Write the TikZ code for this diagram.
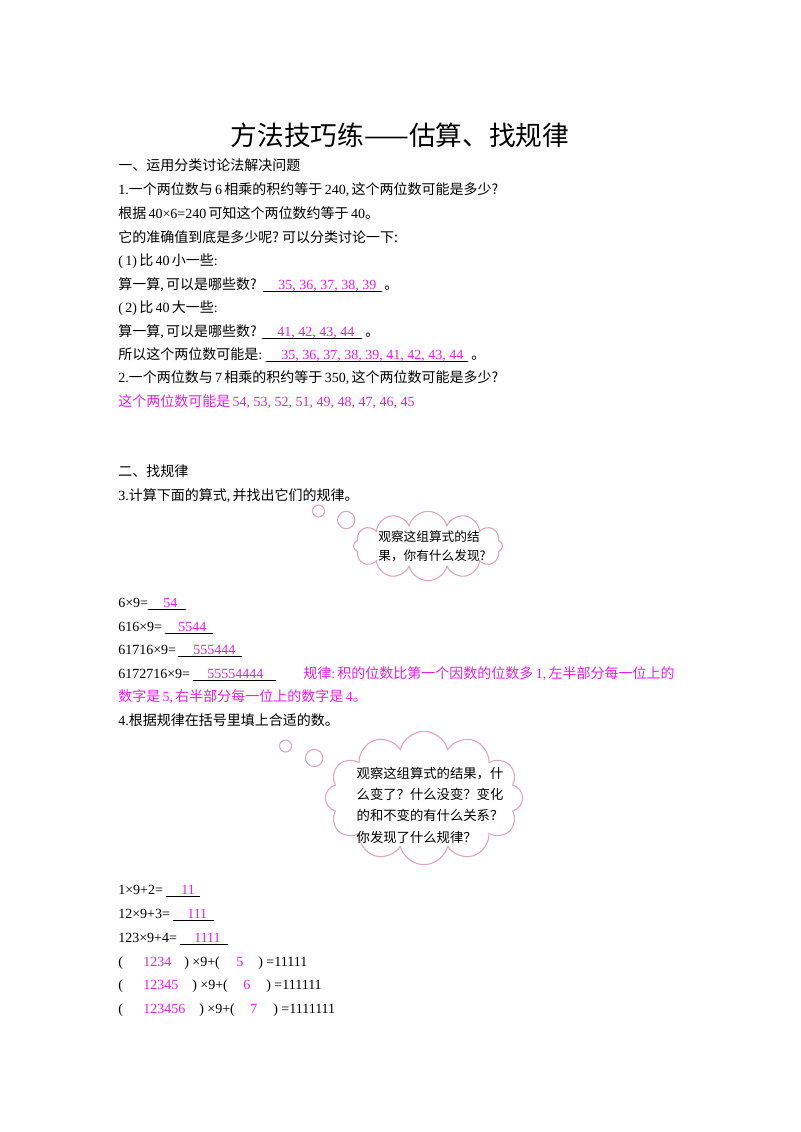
\documentclass[tikz,border=0pt]{standalone}
\usepackage{fontspec}
\setmainfont{Liberation Serif}
\newfontfamily\zhf{Noto Sans CJK SC}
\newcommand\zh[1]{{\zhf #1}}
\usetikzlibrary{shapes.symbols}
\definecolor{mag}{HTML}{E61EE6}
\definecolor{pinkline}{HTML}{E3A3B8}
\begin{document}
\begin{tikzpicture}[x=0.75pt,y=-0.75pt,
  every node/.style={inner sep=0pt,anchor=base west,font=\fontsize{10.5}{12}\selectfont},
  ans/.style={text=mag},
  ul/.style={line width=0.6pt},
  cl/.style={cloud,cloud puffs=12,draw=pinkline,line width=0.8pt,fill=white,aspect=2.2},
  bub/.style={draw=pinkline,line width=0.8pt,fill=white}]
\useasboundingbox (0,0) rectangle (800,1132);
\node[anchor=base,font=\fontsize{20}{24}\selectfont] (title) at (400,145) {\zh{方法技巧练——估算、找规律}};
\node (h1) at (118,170) {\zh{一、运用分类讨论法解决问题}};
\node (q1) at (118,194) {1.\zh{一个两位数与}\,6\,\zh{相乘的积约等于}\,240,\,\zh{这个两位数可能是多少?}};
\node (l2) at (118,218) {\zh{根据}\,40×6=240\,\zh{可知这个两位数约等于}\,40\zh{。}};
\node (l3) at (118,242) {\zh{它的准确值到底是多少呢?\ 可以分类讨论一下:}};
\node (l4) at (118,265) {(\,1)\,\zh{比}\,40\,\zh{小一些}:};
\node (l5) at (118,289) {\zh{算一算},\,\zh{可以是哪些数?}};
\node[ans] (a5) at (278,289) {35, 36, 37, 38, 39};
\node (e5) at (384,289) {\zh{。}};
\draw[ul] (263,291) -- (382,291);
\node (l6) at (118,312) {(\,2)\,\zh{比}\,40\,\zh{大一些}:};
\node (l7) at (118,336) {\zh{算一算},\,\zh{可以是哪些数?}};
\node[ans] (a7) at (277,336) {41, 42, 43, 44};
\node (e7) at (365,336) {\zh{。}};
\draw[ul] (262,338) -- (362,338);
\node (l8) at (118,359) {\zh{所以这个两位数可能是}:};
\node[ans] (a8) at (281,359) {35, 36, 37, 38, 39, 41, 42, 43, 44};
\node (e8) at (471,359) {\zh{。}};
\draw[ul] (266,361) -- (468,361);
\node (q2) at (118,382) {2.\zh{一个两位数与}\,7\,\zh{相乘的积约等于}\,350,\,\zh{这个两位数可能是多少?}};
\node[ans] (a2) at (118,406) {\zh{这个两位数可能是}\,54, 53, 52, 51, 49, 48, 47, 46, 45};
\node (h2) at (118,476) {\zh{二、找规律}};
\node (q3) at (118,500) {3.\zh{计算下面的算式},\,\zh{并找出它们的规律。}};
\node[bub,circle,minimum size=9pt] (b1) at (312,511) {};
\node[bub,circle,minimum size=13pt] (b2) at (337,520) {};
\node[cl,minimum width=112pt,minimum height=52pt,anchor=center] (c1) at (428,546) {};
\node[anchor=center,align=left,font=\fontsize{9.5}{14}\selectfont] (ct1) at (432,546) {\zh{观察这组算式的结}\\\zh{果，你有什么发现?}};
\node (m1) at (118,607) {6×9=};
\node[ans] (m1a) at (163,607) {54};
\draw[ul] (148,609) -- (186,609);
\node (m2) at (118,631) {616×9=};
\node[ans] (m2a) at (178,631) {5544};
\draw[ul] (165,633) -- (213,633);
\node (m3) at (118,654) {61716×9=};
\node[ans] (m3a) at (193,654) {555444};
\draw[ul] (178,656) -- (242,656);
\node (m4) at (118,678) {6172716×9=};
\node[ans] (m4a) at (207,678) {55554444};
\draw[ul] (193,680) -- (276,680);
\node[ans] (r1) at (303,678) {\zh{规律}:\,\zh{积的位数比第一个因数的位数多}\,1,\,\zh{左半部分每一位上的}};
\node[ans] (r2) at (118,701) {\zh{数字是}\,5,\,\zh{右半部分每一位上的数字是}\,4\zh{。}};
\node (q4) at (118,725) {4.\zh{根据规律在括号里填上合适的数。}};
\node[bub,circle,minimum size=9pt] (b3) at (279,746) {};
\node[bub,circle,minimum size=13pt] (b4) at (305,758) {};
\node[cl,minimum width=148pt,minimum height=100pt,aspect=1.5,anchor=center] (c2) at (424,798) {};
\node[anchor=center,align=left,font=\fontsize{10}{16}\selectfont] (ct2) at (430,805) {\zh{观察这组算式的结果，什}\\\zh{么变了？什么没变？变化}\\\zh{的和不变的有什么关系？}\\\zh{你发现了什么规律？}};
\node (p1) at (118,894) {1×9+2=};
\node[ans] (p1a) at (181,894) {11};
\draw[ul] (166,896) -- (200,896);
\node (p2) at (118,918) {12×9+3=};
\node[ans] (p2a) at (187,918) {111};
\draw[ul] (173,920) -- (214,920);
\node (p3) at (118,942) {123×9+4=};
\node[ans] (p3a) at (194,942) {1111};
\draw[ul] (180,944) -- (228,944);
\node (f1a) at (118,966) {(};
\node[ans] (f1b) at (143,966) {1234};
\node (f1c) at (184,966) {)\ ×9+(};
\node[ans] (f1d) at (236,966) {5};
\node (f1e) at (258,966) {)\ =11111};
\node (f2a) at (118,989) {(};
\node[ans] (f2b) at (143,989) {12345};
\node (f2c) at (192,989) {)\ ×9+(};
\node[ans] (f2d) at (243,989) {6};
\node (f2e) at (266,989) {)\ =111111};
\node (f3a) at (118,1013) {(};
\node[ans] (f3b) at (143,1013) {123456};
\node (f3c) at (199,1013) {)\ ×9+(};
\node[ans] (f3d) at (250,1013) {7};
\node (f3e) at (273,1013) {)\ =1111111};
\end{tikzpicture}
\end{document}
